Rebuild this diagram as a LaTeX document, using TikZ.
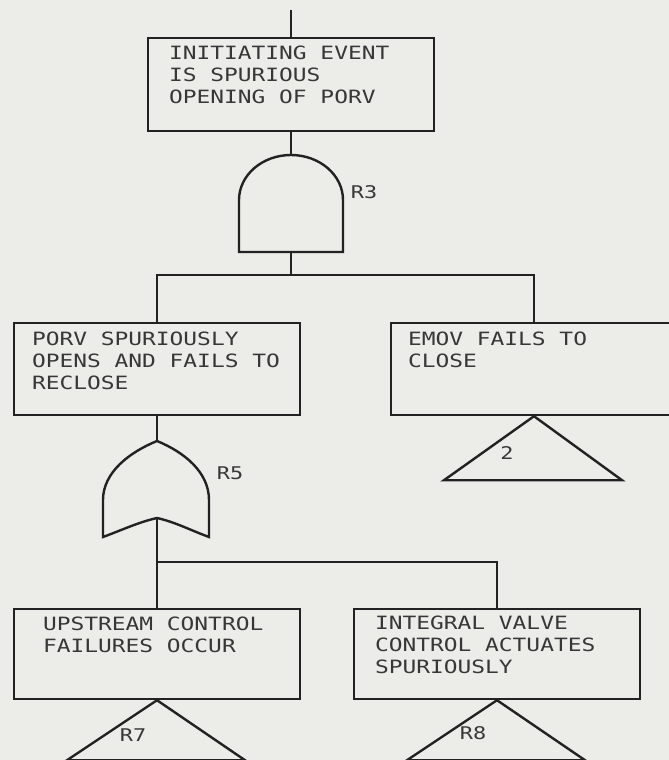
\documentclass[tikz,border=0pt]{standalone}
\usepackage{fontspec}
\newfontfamily\plotfont[FakeStretch=1.25]{DejaVu Sans Mono}
\usetikzlibrary{calc}
\definecolor{paper}{RGB}{236,236,233}
\definecolor{ink}{RGB}{34,34,34}
\definecolor{textink}{RGB}{55,55,55}
\begin{document}
\begin{tikzpicture}[x=1pt,y=-1pt,
  wire/.style={draw=ink,line width=2.4pt},
  box/.style={draw=ink,line width=2.4pt,rectangle,minimum width=286pt,inner sep=0pt},
  txt/.style={font=\plotfont\fontsize{18.3}{22}\selectfont,text=textink,align=left,inner sep=0pt,anchor=north west},
  lbl/.style={font=\plotfont\fontsize{17.5}{20}\selectfont,text=textink,inner sep=0pt},
  gate/.style={draw=ink,line width=2.4pt,fill=paper},
  xfer/.style={draw=ink,line width=2.4pt,line join=miter}]
\fill[paper] (0,0) rectangle (669,760);
\useasboundingbox (0,0) rectangle (669,760);
\clip (0,0) rectangle (669,760);

% boxes
\node[box,minimum height=93pt] (ie) at (291,84.5) {};
\node[txt] (ietxt) at ($(ie.north west)+(22,9)$) {INITIATING EVENT\\IS SPURIOUS\\OPENING OF PORV};

\node[box,minimum height=92pt] (porv) at (157,369) {};
\node[txt] (porvtxt) at ($(porv.north west)+(19,10)$) {PORV SPURIOUSLY\\OPENS AND FAILS TO\\RECLOSE};

\node[box,minimum height=92pt] (emov) at (534,369) {};
\node[txt] (emovtxt) at ($(emov.north west)+(18,10)$) {EMOV FAILS TO\\CLOSE};

\node[box,minimum height=90pt] (up) at (157,654) {};
\node[txt] (uptxt) at ($(up.north west)+(30,9)$) {UPSTREAM CONTROL\\FAILURES OCCUR};

\node[box,minimum height=90pt] (ivc) at (497,654) {};
\node[txt] (ivctxt) at ($(ivc.north west)+(22,8)$) {INTEGRAL VALVE\\CONTROL ACTUATES\\SPURIOUSLY};

% AND gate R3
\coordinate (andtop) at (291,155);
\coordinate (andbot) at (291,252);
\draw[gate] (239,252) -- (239,200) arc[start angle=180,end angle=0,x radius=52pt,y radius=45pt] -- (343,252) -- cycle;
\node[lbl] (r3) at (364,192) {R3};

% OR gate R5
\coordinate (ortop) at (157,441);
\coordinate (orbot) at (157,518);
\draw[gate] (103,537) -- (103,500) .. controls (103,472) and (130,452) .. (ortop)
  .. controls (184,452) and (209,472) .. (209,500) -- (209,537)
  .. controls (190,530) and (175,522) .. (orbot)
  .. controls (139,522) and (122,530) .. (103,537) -- cycle;
\node[lbl] (r5) at (230,473) {R5};

% connectors
\coordinate (topin) at (291,10);
\coordinate (j1) at (291,275);
\coordinate (j2) at (157,562);
\draw[wire] (topin) -- (ie.north);
\draw[wire] (ie.south) -- (andtop);
\draw[wire] (andbot) -- (j1);
\draw[wire] (porv.north) -- (porv.north |- j1) -- (emov.north |- j1) -- (emov.north);
\draw[wire] (porv.south) -- (ortop);
\draw[wire] (orbot) -- (j2);
\draw[wire] (j2) -- (up.north);
\draw[wire] (j2) -- (ivc.north |- j2) -- (ivc.north);

% transfer triangles
\draw[xfer] (emov.south) -- ++(-90,64) -- ++(178,0) -- cycle;
\node[lbl] (t2) at (507,453) {2};
\draw[xfer] (up.south) -- ++(-90,60) -- ++(178,0) -- cycle;
\node[lbl] (r7) at (133,735) {R7};
\draw[xfer] (ivc.south) -- ++(-90,60) -- ++(178,0) -- cycle;
\node[lbl] (r8) at (473,733) {R8};
\end{tikzpicture}
\end{document}
